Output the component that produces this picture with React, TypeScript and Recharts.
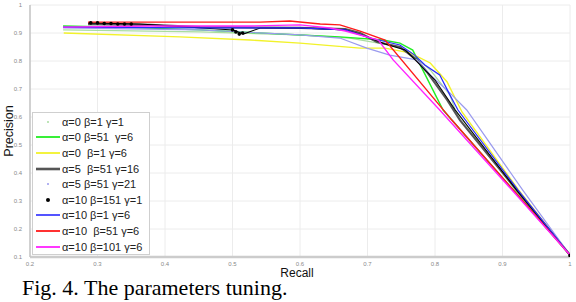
import React from 'react';
import { ComposedChart, Line, XAxis, YAxis, CartesianGrid } from 'recharts';

const xTicks = [0.2, 0.3, 0.4, 0.5, 0.6, 0.7, 0.8, 0.9, 1];
const yTicks = [0.1, 0.2, 0.3, 0.4, 0.5, 0.6, 0.7, 0.8, 0.9, 1];

// [recall, precision] pairs
const a0b1g1 = [[0.249, 0.911], [0.452, 0.904], [0.6, 0.893], [0.674, 0.882], [0.733, 0.857], [0.763, 0.832], [0.793, 0.768], [0.822, 0.679], [0.83, 0.625], [0.919, 0.339], [1, 0.107]];
const a0b51g6 = [[0.249, 0.925], [0.333, 0.921], [0.452, 0.911], [0.6, 0.893], [0.659, 0.886], [0.723, 0.875], [0.748, 0.864], [0.767, 0.839], [0.812, 0.625], [0.916, 0.339], [1, 0.107]];
const a0b1g6 = [[0.25, 0.9], [0.422, 0.886], [0.526, 0.875], [0.6, 0.864], [0.689, 0.846], [0.726, 0.846], [0.763, 0.829], [0.793, 0.793], [0.818, 0.725], [0.84, 0.618], [0.924, 0.339], [1, 0.107]];
const a5b51g16 = [[0.286, 0.932], [0.378, 0.929], [0.452, 0.921], [0.6, 0.918], [0.667, 0.914], [0.689, 0.9], [0.714, 0.868], [0.748, 0.85], [0.773, 0.804], [0.788, 0.761], [0.818, 0.661], [0.837, 0.589], [0.921, 0.339], [1, 0.107]];
const a5b51g21 = [[0.249, 0.918], [0.452, 0.911], [0.6, 0.893], [0.659, 0.882], [0.699, 0.846], [0.733, 0.821], [0.773, 0.804], [0.793, 0.75], [0.822, 0.686], [0.847, 0.625], [0.93, 0.339], [1, 0.107]];
const a10b151g1 = [[0.286, 0.936], [0.363, 0.932], [0.501, 0.911], [0.516, 0.896], [0.541, 0.918], [0.6, 0.918], [0.667, 0.911], [0.696, 0.889], [0.726, 0.861], [0.756, 0.839], [0.778, 0.786], [0.8, 0.732], [0.83, 0.625], [0.921, 0.339], [1, 0.107]];
const a10b151g1Marks = [[0.29, 0.936], [0.3, 0.936], [0.31, 0.934], [0.32, 0.934], [0.33, 0.932], [0.34, 0.932], [0.35, 0.932], [0.5, 0.911], [0.505, 0.904], [0.51, 0.896], [0.515, 0.9], [1, 0.105]];
const a10b1g6 = [[0.249, 0.921], [0.452, 0.918], [0.6, 0.918], [0.667, 0.911], [0.704, 0.882], [0.748, 0.857], [0.77, 0.821], [0.785, 0.786], [0.807, 0.75], [0.822, 0.679], [0.834, 0.625], [0.923, 0.339], [1, 0.107]];
const a10b51g6 = [[0.286, 0.939], [0.452, 0.939], [0.541, 0.939], [0.585, 0.943], [0.63, 0.932], [0.659, 0.929], [0.689, 0.907], [0.726, 0.875], [0.825, 0.589], [0.916, 0.339], [1, 0.107]];
const a10b101g6 = [[0.249, 0.921], [0.378, 0.925], [0.526, 0.925], [0.6, 0.929], [0.644, 0.918], [0.667, 0.907], [0.689, 0.893], [0.716, 0.875], [0.738, 0.804], [0.807, 0.625], [0.914, 0.339], [1, 0.107]];

const names = ['α=0 β=1 γ=1', 'α=0 β=51  γ=6', 'α=0  β=1 γ=6', 'α=5  β=51 γ=16', 'α=5 β=51 γ=21', 'α=10 β=151 γ=1', 'α=10 β=1 γ=6', 'α=10  β=51 γ=6', 'α=10 β=101 γ=6'];
const colors = ['#a9dca0', '#22ee22', '#f2f22a', '#555555', '#9a9aee', '#000000', '#2a2aff', '#ff1a1a', '#ff22ff'];
const widths = [1.2, 1.4, 1.4, 2.2, 1.2, 1.1, 1.2, 1.4, 1.4];
const marker = [true, false, false, false, true, true, false, false, false];
const seriesData = [a0b1g1, a0b51g6, a0b1g6, a5b51g16, a5b51g21, a10b151g1, a10b1g6, a10b51g6, a10b101g6];

const toPts = (a: number[][]) => a.map(([r, p]) => ({ r, p }));

const fmt = (v: number) => (v === 1 ? '1' : v.toFixed(1));
const tickStyle = { fontSize: 6, fill: '#8a8a8a', fontFamily: 'Liberation Sans, Arial' };

function LegendBox() {
  return (
    <div style={{ position: 'absolute', left: 32, top: 112, width: 118, height: 143, background: '#fff', border: '1px solid #cfcfcf', boxSizing: 'border-box' }}>
      {names.map((n, i) => (
        <div key={n} style={{ position: 'absolute', left: 2, top: 1 + i * 15.6, height: 15.6, display: 'flex', alignItems: 'center' }}>
          <svg width={26} height={10}>
            {marker[i] ? (
              <circle cx={13} cy={5} r={i === 5 ? 2 : 1} fill={colors[i]} />
            ) : (
              <line x1={1} x2={25} y1={5} y2={5} stroke={colors[i]} strokeWidth={widths[i] + 0.4} />
            )}
          </svg>
          <span style={{ fontFamily: 'Liberation Sans, Arial', fontSize: 11, color: '#222', whiteSpace: 'pre', marginLeft: 1 }}>{n}</span>
        </div>
      ))}
    </div>
  );
}

export default function App() {
  return (
    <div style={{ position: 'absolute', left: 0, top: 0, width: 576, height: 302, background: '#fff', overflow: 'hidden' }}>
      <ComposedChart width={576} height={283} margin={{ top: 5, right: 6, bottom: 0, left: 0 }}>
        <CartesianGrid stroke="#ececec" />
        <XAxis
          type="number"
          dataKey="r"
          domain={[0.2, 1]}
          ticks={xTicks}
          tickFormatter={fmt}
          allowDataOverflow
          height={26}
          tickLine={false}
          tickSize={3}
          axisLine={{ stroke: '#cccccc', strokeWidth: 2.5 }}
          tick={tickStyle}
          label={(props: any) => {
            const vb = props.viewBox;
            return (
              <text x={vb.x + vb.width / 2 - 3} y={vb.y + 20} textAnchor="middle" fontSize={12} fontFamily="Liberation Sans, Arial" fill="#111">
                Recall
              </text>
            );
          }}
        />
        <YAxis
          type="number"
          dataKey="p"
          domain={[0.1, 1]}
          ticks={yTicks}
          tickFormatter={fmt}
          allowDataOverflow
          width={30}
          tickLine={false}
          tickSize={4}
          tickMargin={4}
          axisLine={{ stroke: '#c4c4c4', strokeWidth: 1.5 }}
          tick={tickStyle}
          label={(props: any) => {
            const vb = props.viewBox;
            const cx = 9;
            const cy = vb.y + vb.height / 2;
            return (
              <text x={cx} y={cy} transform={`rotate(-90 ${cx} ${cy})`} textAnchor="middle" dominantBaseline="central" fontSize={12.5} fontFamily="Liberation Sans, Arial" fill="#111">
                Precision
              </text>
            );
          }}
        />
        {seriesData.map((d, i) => (
          <Line
            key={names[i]}
            data={toPts(d)}
            dataKey="p"
            type="linear"
            stroke={colors[i]}
            strokeWidth={widths[i]}
            dot={false}
            activeDot={false}
            isAnimationActive={false}
          />
        ))}
        <Line
          data={toPts(a10b151g1Marks)}
          dataKey="p"
          stroke="none"
          dot={{ r: 1.8, fill: '#000', stroke: 'none' }}
          activeDot={false}
          isAnimationActive={false}
        />
      </ComposedChart>
      <LegendBox />
      <div style={{ position: 'absolute', left: 22, top: 277, fontFamily: 'Liberation Serif, Times New Roman', fontSize: 22, lineHeight: '22px', color: '#000', whiteSpace: 'nowrap' }}>
        Fig. 4. The parameters tuning.
      </div>
    </div>
  );
}
